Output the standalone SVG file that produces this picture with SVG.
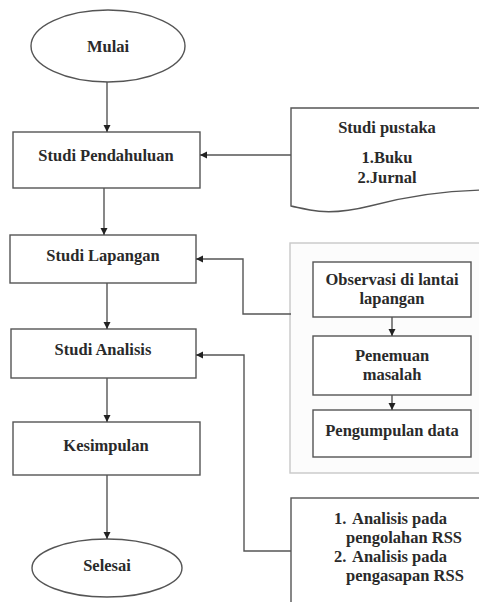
<svg xmlns="http://www.w3.org/2000/svg" width="479" height="602" viewBox="0 0 479 602">
<style>
.shape{fill:#fff;stroke:#555;stroke-width:1.4}
.cont{fill:#fcfcfc;stroke:#c8c8c8;stroke-width:1.4}
.t{font-family:"Liberation Serif","Times New Roman",serif;font-weight:bold;font-size:16.5px;fill:#2a2a2a;text-anchor:middle}
.tl{font-family:"Liberation Serif","Times New Roman",serif;font-weight:bold;font-size:16.5px;fill:#2a2a2a}
.c{fill:none;stroke:#555;stroke-width:1.4}
</style>
<defs>
<marker id="ah" markerUnits="userSpaceOnUse" markerWidth="8" markerHeight="8" refX="7" refY="4" orient="auto">
<path d="M0,0.5 L7,4 L0,7.5 Z" fill="#222"/>
</marker>
</defs>
<rect width="479" height="602" fill="#fff"/>
<g id="container">
<rect class="cont" x="290" y="243" width="200" height="230"/>
</g>
<g id="mulai">
<ellipse class="shape" cx="108" cy="46" rx="77" ry="36"/>
<text class="t" x="108" y="52">Mulai</text>
</g>
<g id="studi-pendahuluan">
<rect class="shape" x="13" y="132" width="187" height="56"/>
<text class="t" x="106" y="161">Studi Pendahuluan</text>
</g>
<g id="studi-lapangan">
<rect class="shape" x="10" y="235" width="186" height="48"/>
<text class="t" x="103" y="261">Studi Lapangan</text>
</g>
<g id="studi-analisis">
<rect class="shape" x="11" y="329" width="185" height="49"/>
<text class="t" x="103" y="355">Studi Analisis</text>
</g>
<g id="kesimpulan">
<rect class="shape" x="13" y="422" width="187" height="53"/>
<text class="t" x="106" y="451">Kesimpulan</text>
</g>
<g id="selesai">
<ellipse class="shape" cx="107" cy="568" rx="75" ry="29"/>
<text class="t" x="107" y="571">Selesai</text>
</g>
<g id="studi-pustaka">
<path class="shape" d="M291,108 L490,108 L490,190 C440,190 400,198 370,206 C350,211 330,214 310,210 C300,208 295,207 291,206 Z"/>
<text class="t" x="387" y="133">Studi pustaka</text>
<text class="t" x="387" y="163">1.Buku</text>
<text class="t" x="387" y="183">2.Jurnal</text>
</g>
<g id="observasi">
<rect class="shape" x="313" y="262" width="158" height="55"/>
<text class="t" x="392" y="285">Observasi di lantai</text>
<text class="t" x="392" y="304">lapangan</text>
</g>
<g id="penemuan">
<rect class="shape" x="313" y="336" width="158" height="59"/>
<text class="t" x="392" y="361">Penemuan</text>
<text class="t" x="392" y="380">masalah</text>
</g>
<g id="pengumpulan">
<rect class="shape" x="313" y="410" width="158" height="47"/>
<text class="t" x="392" y="436">Pengumpulan data</text>
</g>
<g id="analisis-list">
<rect class="shape" x="291" y="498" width="200" height="110"/>
<text class="tl" x="334" y="524">1.</text>
<text class="tl" x="352" y="524">Analisis pada</text>
<text class="tl" x="346" y="543">pengolahan RSS</text>
<text class="tl" x="334" y="562">2.</text>
<text class="tl" x="352" y="562">Analisis pada</text>
<text class="tl" x="346" y="581">pengasapan RSS</text>
</g>
<g id="connectors">
<path class="c" d="M107,82 L107,132" marker-end="url(#ah)"/>
<path class="c" d="M104,188 L104,235" marker-end="url(#ah)"/>
<path class="c" d="M107,283 L107,329" marker-end="url(#ah)"/>
<path class="c" d="M107,378 L107,422" marker-end="url(#ah)"/>
<path class="c" d="M107,475 L107,539" marker-end="url(#ah)"/>
<path class="c" d="M291,155 L200,155" marker-end="url(#ah)"/>
<path class="c" d="M291,314 L243,314 L243,259 L196,259" marker-end="url(#ah)"/>
<path class="c" d="M291,551 L244,551 L244,355 L196,355" marker-end="url(#ah)"/>
<path class="c" d="M392,317 L392,336" marker-end="url(#ah)"/>
<path class="c" d="M392,395 L392,410" marker-end="url(#ah)"/>
</g>
</svg>
